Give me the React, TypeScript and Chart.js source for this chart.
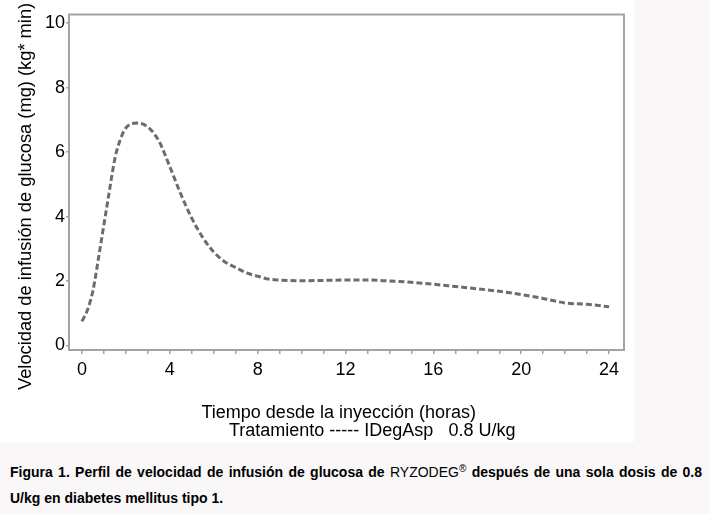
import React, { useEffect, useRef } from "react";
import { Chart, registerables } from "chart.js";

Chart.register(...registerables);

// Time since injection (hours)
const hours = [0, 0.25, 0.5, 0.75, 1, 1.25, 1.5, 1.75, 2, 2.5, 3, 3.5, 4, 4.5, 5, 5.5, 6, 6.5, 7, 7.5, 8, 8.5, 9, 10, 11, 12, 13, 14, 15, 16, 17, 18, 19, 20, 21, 22, 23, 24];
// Glucose infusion rate (mg/(kg*min)) - IDegAsp 0.8 U/kg
const girValues = [0.75, 1.1, 1.7, 2.7, 3.75, 4.8, 5.8, 6.4, 6.75, 6.9, 6.78, 6.35, 5.55, 4.7, 3.95, 3.35, 2.9, 2.6, 2.42, 2.25, 2.15, 2.06, 2.03, 2.01, 2.02, 2.03, 2.03, 2.0, 1.96, 1.9, 1.83, 1.76, 1.68, 1.58, 1.46, 1.32, 1.28, 1.2];

const xTicks = [0, 1, 2, 3, 4, 5, 6, 7, 8, 9, 10, 11, 12, 13, 14, 15, 16, 17, 18, 19, 20, 21, 22, 23, 24];
const xLabelEvery = 4;
const yTicks = [0, 2, 4, 6, 8, 10];

const yTitle = "Velocidad de infusión de glucosa (mg) (kg* min)";
const xTitle = "Tiempo desde la inyección (horas)";
const legendText = "Tratamiento ----- IDegAsp   0.8 U/kg";

const FONT = '"Liberation Sans", Arial, sans-serif';
const FRAME = "#a3a3a3";

const framePlugin = {
  id: "frame",
  afterDraw(chart: any) {
    const { ctx, chartArea } = chart;
    ctx.save();
    ctx.strokeStyle = FRAME;
    ctx.lineWidth = 2;
    ctx.strokeRect(chartArea.left, chartArea.top, chartArea.right - chartArea.left, chartArea.bottom - chartArea.top);
    ctx.restore();
  },
};

export default function App() {
  const ref = useRef<HTMLCanvasElement | null>(null);

  useEffect(() => {
    if (!ref.current) return;
    const chart = new Chart(ref.current, {
      type: "line",
      data: {
        datasets: [
          {
            label: "IDegAsp 0.8 U/kg",
            data: hours.map((h, i) => ({ x: h, y: girValues[i] })),
            borderColor: "#6c6c6c",
            borderWidth: 3,
            borderDash: [6, 3],
            pointRadius: 0,
            cubicInterpolationMode: "monotone",
            fill: false,
          },
        ],
      },
      options: {
        animation: false,
        responsive: false,
        devicePixelRatio: 1,
        layout: { padding: { left: 0, top: 14.5, right: 10, bottom: 0 } },
        plugins: { legend: { display: false }, tooltip: { enabled: false }, title: { display: false } },
        scales: {
          x: {
            type: "linear",
            min: -0.59,
            max: 24.68,
            afterBuildTicks: (axis: any) => {
              axis.ticks = xTicks.map((v) => ({ value: v }));
            },
            afterFit: (axis: any) => {
              axis.height = 92;
            },
            ticks: {
              autoSkip: false,
              maxRotation: 0,
              padding: 5,
              color: "#000",
              font: { family: FONT, size: 18 },
              callback: (v: any) => (Number(v) % xLabelEvery === 0 ? String(v) : ""),
            },
            grid: { display: true, drawOnChartArea: false, drawTicks: true, tickLength: 4, color: FRAME, lineWidth: 1.5 },
            border: { display: false },
          },
          y: {
            type: "linear",
            min: -0.14,
            max: 10.27,
            afterBuildTicks: (axis: any) => {
              axis.ticks = yTicks.map((v) => ({ value: v }));
            },
            afterFit: (axis: any) => {
              axis.width = 69;
            },
            ticks: {
              padding: 1,
              color: "#000",
              font: { family: FONT, size: 18 },
              callback: (v: any) => String(v),
            },
            grid: { display: true, drawOnChartArea: false, drawTicks: true, tickLength: 3, color: FRAME, lineWidth: 1.5 },
            border: { display: false },
          },
        },
      },
      plugins: [framePlugin],
    } as any);
    return () => chart.destroy();
  }, []);

  return (
    <div style={{ position: "fixed", left: 0, top: 0, width: 710, height: 514, background: "#f9f7f7", overflow: "hidden", fontFamily: FONT }}>
      <div style={{ position: "absolute", left: 0, top: 0, width: 634, height: 442, background: "#ffffff", overflow: "hidden" }}>
        <canvas ref={ref} width={634} height={442} style={{ position: "absolute", left: 0, top: 0, width: 634, height: 442 }} />
        <div
          style={{
            position: "absolute",
            left: 16,
            top: 389.5,
            transformOrigin: "0 0",
            transform: "rotate(-90deg)",
            whiteSpace: "nowrap",
            fontSize: 18.3,
            lineHeight: "18.3px",
            color: "#000",
          }}
        >
          {yTitle}
        </div>
        <div style={{ position: "absolute", left: 201.5, top: 403.4, whiteSpace: "pre", fontSize: 18, lineHeight: "18px", color: "#000" }}>
          {xTitle}
        </div>
        <div style={{ position: "absolute", left: 229, top: 420.5, whiteSpace: "pre", fontSize: 18, lineHeight: "18px", color: "#000" }}>
          {legendText}
        </div>
      </div>
      <div
        style={{
          position: "absolute",
          left: 10,
          top: 459,
          width: 692,
          fontSize: 14,
          lineHeight: "26px",
          fontWeight: "bold",
          textAlign: "justify",
          color: "#000",
        }}
      >
        Figura 1. Perfil de velocidad de infusión de glucosa de{" "}
        <span style={{ fontWeight: "normal" }}>
          RYZODEG<sup style={{ fontSize: 10, lineHeight: 0, verticalAlign: "5px" }}>®</sup>
        </span>{" "}
        después de una sola dosis de 0.8 U/kg en diabetes mellitus tipo 1.
      </div>
    </div>
  );
}
